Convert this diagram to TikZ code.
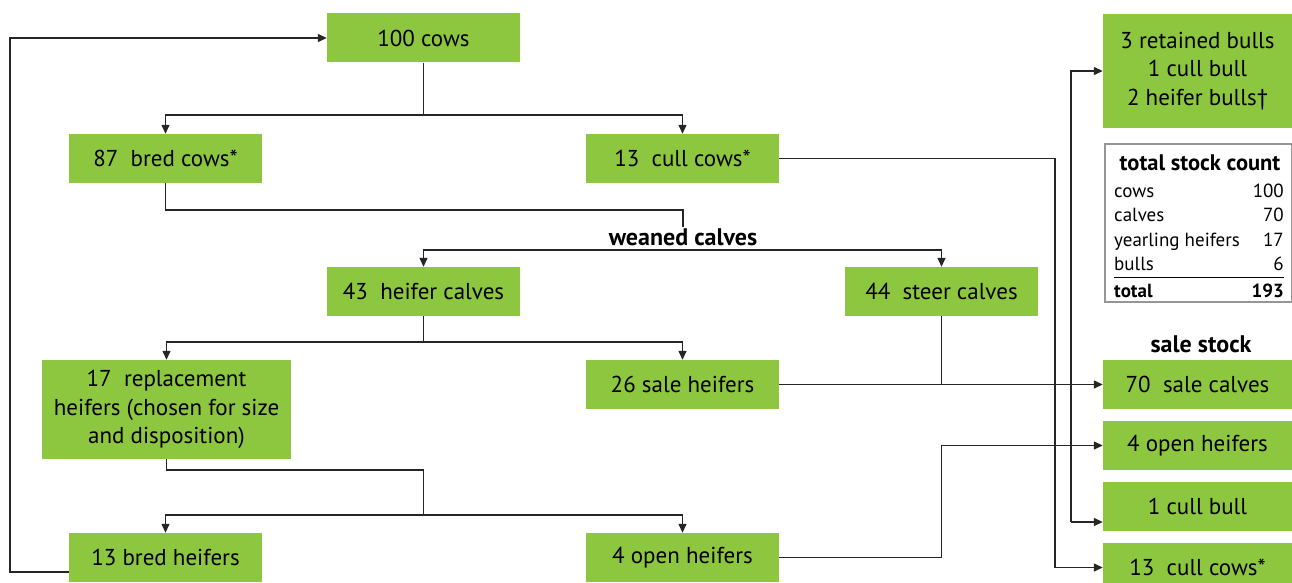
\documentclass[tikz,border=0pt]{standalone}
\usepackage{fontspec}
\setmainfont{PT Sans}
\usetikzlibrary{arrows.meta,calc}
\definecolor{grn}{RGB}{141,198,63}
\definecolor{tblgray}{RGB}{150,150,150}
\tikzset{
  box/.style={fill=grn, inner sep=0pt, align=center, minimum width=193pt, minimum height=49pt, font=\fontsize{23}{28.5}\selectfont},
  rbox/.style={box, minimum width=189pt},
  lbl/.style={font=\fontsize{24}{28}\selectfont\bfseries, inner sep=1pt},
  conn/.style={line width=1.3pt, draw=black!85},
  arr/.style={conn, -{Triangle[length=9pt,width=8pt]}},
  trow/.style={font=\fontsize{19}{22}\selectfont, inner sep=0pt, anchor=base west},
  tnum/.style={font=\fontsize{19}{22}\selectfont, inner sep=0pt, anchor=base east},
}
\begin{document}
\begin{tikzpicture}[x=1pt,y=-1pt]
\useasboundingbox (0,0) rectangle (1292,583);
% nodes
\node[box] (cows100) at (423.5,38) {100 cows};
\node[box] (bred87) at (165.5,158.5) {87\ \ bred cows*};
\node[box] (cull13) at (682.5,158.5) {13\ \ cull cows*};
\node[lbl] (weaned) at (683,237) {weaned calves};
\node[box] (heifer43) at (423.5,291.5) {43\ \ heifer calves};
\node[box] (steer44) at (941.5,291.5) {44\ \ steer calves};
\node[box, minimum width=249pt, minimum height=99pt] (repl17) at (166.5,409.5) {17\ \ replacement\\heifers (chosen for size\\and disposition)};
\node[box] (sale26) at (682.5,384.5) {26 sale heifers};
\node[box] (bredh13) at (165.5,557.5) {13 bred heifers};
\node[box] (open4) at (682.5,557.5) {4 open heifers};
% right column
\node[rbox, minimum height=114pt] (bulls) at (1197.5,71) {3 retained bulls\\1 cull bull\\2 heifer bulls\textdagger};
\node[draw=tblgray, line width=2.2pt, minimum width=187pt, minimum height=158pt, inner sep=0pt] (table) at (1198.5,223) {};
\node[font=\fontsize{22.5}{26}\selectfont\bfseries, inner sep=0pt, anchor=base] (ttitle) at (1200,170) {total stock count};
\node[trow] (r1) at (1114,197) {cows};
\node[tnum] (n1) at (1284,197) {100};
\node[trow] (r2) at (1114,221) {calves};
\node[tnum] (n2) at (1284,221) {70};
\node[trow] (r3) at (1114,246) {yearling heifers};
\node[tnum] (n3) at (1284,246) {17};
\node[trow] (r4) at (1114,270) {bulls};
\node[tnum] (n4) at (1284,270) {6};
\node[trow, font=\fontsize{19}{22}\selectfont\bfseries] (r5) at (1114,297) {total};
\node[tnum, font=\fontsize{19}{22}\selectfont\bfseries] (n5) at (1284,297) {193};
\coordinate (ruleL) at (1114,277);
\coordinate (ruleR) at (1284,277);
\draw[line width=1pt] (ruleL) -- (ruleR);
\node[lbl, inner sep=0pt] (salestock) at (1201,344) {sale stock};
\node[rbox] (salecalves) at (1197.5,384.5) {70\ \ sale calves};
\node[rbox] (openR) at (1197.5,445.5) {4 open heifers};
\node[rbox] (cullbull) at (1197.5,506) {1 cull bull};
\node[rbox] (cullcowsR) at (1197.5,567.5) {13\ \ cull cows*};
% connectors
\coordinate (j1) at (423.5,115);
\draw[conn] (cows100.south) -- (j1);
\draw[arr] (j1) -| (bred87.north);
\draw[arr] (j1) -| (cull13.north);
\coordinate (w1) at (683,210);
\draw[conn] (bred87.south) |- (w1) -- (weaned.north);
\coordinate (w2) at (683,250);
\draw[arr] (w2) -| (heifer43.north);
\draw[arr] (w2) -| (steer44.north);
\coordinate (j3) at (423.5,342);
\draw[conn] (heifer43.south) -- (j3);
\draw[arr] (j3) -| (repl17.north);
\draw[arr] (j3) -| (sale26.north);
\coordinate (k1) at (423.5,470);
\coordinate (k2) at (423.5,515);
\draw[conn] (repl17.south) |- (k1) -- (k2);
\draw[arr] (k2) -| (bredh13.north);
\draw[arr] (k2) -| (open4.north);
\coordinate (loop) at (10,572);
\draw[arr] (bredh13.west |- loop) -- (loop) |- (cows100.west);
\draw[arr] (sale26.east) -- (salecalves.west);
\draw[conn] (steer44.south) -- (steer44.south |- sale26.east);
\coordinate (c1) at (1055,158.5);
\draw[arr] (cull13.east) -- (c1) |- (cullcowsR.west);
\coordinate (o1) at (941.5,557.5);
\draw[arr] (open4.east) -- (o1) |- (openR.west);
\coordinate (bB) at (1071,522);
\draw[arr] (bB) |- (bulls.west);
\draw[arr] (bB) -- (bB -| cullbull.west);
\end{tikzpicture}
\end{document}
